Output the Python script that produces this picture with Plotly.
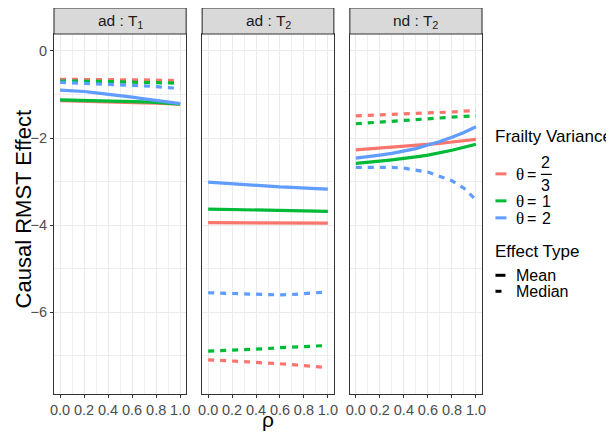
import plotly.graph_objects as go

# ---------------- data ----------------
rho = [0.0, 0.1, 0.2, 0.3, 0.4, 0.5, 0.6, 0.7, 0.8, 0.9, 1.0]
panel_labels = ["ad : T<sub>1</sub>", "ad : T<sub>2</sub>", "nd : T<sub>2</sub>"]
theta_names = ["2/3", "1", "2"]
effect_types = ["Mean", "Median"]
x_ticks = [0.0, 0.2, 0.4, 0.6, 0.8, 1.0]
y_ticks = [0, -2, -4, -6]

# panel ad:T1
p1_mean_t23 = [-1.14, -1.145, -1.15, -1.155, -1.16, -1.17, -1.18, -1.19, -1.20, -1.21, -1.22]
p1_mean_t1 = [-1.12, -1.125, -1.13, -1.135, -1.14, -1.15, -1.16, -1.17, -1.18, -1.20, -1.22]
p1_mean_t2 = [-0.90, -0.91, -0.93, -0.96, -0.99, -1.02, -1.06, -1.10, -1.14, -1.18, -1.21]
p1_med_t23 = [-0.65, -0.65, -0.65, -0.65, -0.655, -0.66, -0.66, -0.665, -0.67, -0.67, -0.68]
p1_med_t1 = [-0.69, -0.69, -0.695, -0.70, -0.70, -0.71, -0.715, -0.72, -0.73, -0.735, -0.74]
p1_med_t2 = [-0.72, -0.73, -0.74, -0.75, -0.76, -0.77, -0.79, -0.80, -0.82, -0.84, -0.86]

# panel ad:T2
p2_mean_t23 = [-3.94, -3.94, -3.94, -3.94, -3.94, -3.945, -3.945, -3.945, -3.95, -3.95, -3.95]
p2_mean_t1 = [-3.63, -3.635, -3.64, -3.645, -3.65, -3.655, -3.66, -3.665, -3.67, -3.675, -3.68]
p2_mean_t2 = [-3.01, -3.03, -3.05, -3.07, -3.09, -3.10, -3.12, -3.13, -3.15, -3.16, -3.17]
p2_med_t23 = [-7.09, -7.10, -7.12, -7.13, -7.15, -7.16, -7.18, -7.20, -7.22, -7.24, -7.27]
p2_med_t1 = [-6.89, -6.88, -6.87, -6.85, -6.84, -6.83, -6.81, -6.80, -6.79, -6.77, -6.76]
p2_med_t2 = [-5.55, -5.56, -5.57, -5.58, -5.59, -5.60, -5.60, -5.59, -5.57, -5.55, -5.53]

# panel nd:T2
p3_mean_t23 = [-2.27, -2.25, -2.23, -2.21, -2.19, -2.17, -2.14, -2.12, -2.09, -2.06, -2.03]
p3_mean_t1 = [-2.58, -2.56, -2.53, -2.50, -2.47, -2.43, -2.39, -2.34, -2.28, -2.21, -2.14]
p3_mean_t2 = [-2.46, -2.43, -2.39, -2.35, -2.30, -2.24, -2.16, -2.08, -1.98, -1.87, -1.74]
p3_med_t23 = [-1.49, -1.48, -1.47, -1.46, -1.45, -1.44, -1.42, -1.41, -1.40, -1.38, -1.37]
p3_med_t1 = [-1.67, -1.65, -1.63, -1.61, -1.59, -1.57, -1.55, -1.53, -1.52, -1.50, -1.49]
p3_med_t2 = [-2.67, -2.67, -2.67, -2.67, -2.69, -2.73, -2.78, -2.88, -2.98, -3.15, -3.42]

panel_series = [
    [[p1_mean_t23, p1_mean_t1, p1_mean_t2], [p1_med_t23, p1_med_t1, p1_med_t2]],
    [[p2_mean_t23, p2_mean_t1, p2_mean_t2], [p2_med_t23, p2_med_t1, p2_med_t2]],
    [[p3_mean_t23, p3_mean_t1, p3_mean_t2], [p3_med_t23, p3_med_t1, p3_med_t2]],
]

# ---------------- style ----------------
# the page body has an 8px margin, so the figure is drawn offset by 8px
OFF = 8
PAGE_W, PAGE_H = 614, 432
W, H = PAGE_W - OFF, PAGE_H - OFF
PL, PR, PT, PB = 53.5, 482.5, 34, 394.3   # plot area in page pixels
ML, MR, MT, MB = PL - OFF, PAGE_W - PR, PT - OFF, PAGE_H - PB
PW = PR - PL
PH = PB - PT
colors = ["#F8766D", "#00BA38", "#619CFF"]
dashes = ["solid", "6px,6px"]
SANS = "Liberation Sans, Arial, sans-serif"
SERIF = "Liberation Serif, DejaVu Serif, serif"


def px2x(px):
    return (px - PL) / PW


def py2y(py):
    return (PB - py) / PH


domains = [[px2x(53.5), px2x(186)], [px2x(202), px2x(334)], [px2x(350), px2x(482.5)]]

fig = go.Figure()
for i in range(3):
    xa = "x" if i == 0 else f"x{i+1}"
    ya = "y" if i == 0 else f"y{i+1}"
    for e in range(2):
        for t in range(3):
            fig.add_trace(go.Scatter(
                x=rho, y=panel_series[i][e][t], mode="lines",
                line=dict(color=colors[t], width=3.2, dash=dashes[e]),
                xaxis=xa, yaxis=ya, showlegend=False,
                name=f"θ={theta_names[t]} {effect_types[e]}"))

layout = dict(
    width=W, height=H,
    margin=dict(l=ML, r=MR, t=MT, b=MB, pad=0),
    paper_bgcolor="white", plot_bgcolor="white",
    font=dict(family=SANS, color="#000000"),
    showlegend=False,
)
for i in range(3):
    xk = "xaxis" if i == 0 else f"xaxis{i+1}"
    yk = "yaxis" if i == 0 else f"yaxis{i+1}"
    xa = "x" if i == 0 else f"x{i+1}"
    layout[xk] = dict(
        domain=domains[i], anchor="y" if i == 0 else f"y{i+1}",
        range=[-0.05, 1.05], tickvals=x_ticks,
        ticktext=[f"{v:.1f}" for v in x_ticks],
        showgrid=True, gridcolor="#EBEBEB", gridwidth=1.1,
        minor=dict(dtick=0.1, tick0=0, showgrid=True, gridcolor="#F0F0F0", gridwidth=0.7),
        zeroline=False, showline=True, mirror=True, linecolor="#333333", linewidth=1.1,
        ticks="outside", ticklen=3, tickcolor="#333333", tickwidth=1,
        tickfont=dict(size=14.5, color="#4D4D4D", family=SANS),
    )
    layout[yk] = dict(
        domain=[0, 1], anchor=xa,
        range=[-7.874, 0.39], tickvals=y_ticks,
        ticktext=["0" if v == 0 else f"\u2212{abs(v)}" for v in y_ticks],
        showgrid=True, gridcolor="#EBEBEB", gridwidth=1.1,
        minor=dict(dtick=1, tick0=0, showgrid=True, gridcolor="#F0F0F0", gridwidth=0.7),
        zeroline=False, showline=True, mirror=True, linecolor="#333333", linewidth=1.1,
        ticks="outside" if i == 0 else "", ticklen=3, tickcolor="#333333", tickwidth=1,
        showticklabels=(i == 0),
        tickfont=dict(size=14.5, color="#4D4D4D", family=SANS),
    )
    if i > 0:
        layout[yk]["matches"] = "y"
fig.update_layout(**layout)

shapes = []
annotations = []
# facet strips
for i in range(3):
    xr = "x domain" if i == 0 else f"x{i+1} domain"
    shapes.append(dict(type="rect", xref=xr, yref="paper", x0=0, x1=1,
                       y0=1, y1=py2y(8), fillcolor="#D9D9D9",
                       line=dict(color="#333333", width=1.1), layer="above"))
    annotations.append(dict(xref="paper", yref="paper",
                            x=(domains[i][0] + domains[i][1]) / 2, y=py2y(21),
                            text=panel_labels[i], showarrow=False,
                            font=dict(size=15.5, color="#1A1A1A", family=SANS),
                            xanchor="center", yanchor="middle"))

# axis titles
annotations.append(dict(xref="paper", yref="paper", x=px2x(23), y=py2y(210),
                        text="Causal RMST Effect", textangle=-90, showarrow=False,
                        font=dict(size=22, color="#000000", family=SANS),
                        xanchor="center", yanchor="middle"))
annotations.append(dict(xref="paper", yref="paper", x=px2x(268), y=py2y(420),
                        text="ρ", showarrow=False,
                        font=dict(size=21, color="#000000", family=SANS),
                        xanchor="center", yanchor="middle"))


def ann(px, py, text, size, family=SANS, xanchor="left"):
    annotations.append(dict(xref="paper", yref="paper", x=px2x(px), y=py2y(py),
                            text=text, showarrow=False,
                            font=dict(size=size, color="#000000", family=family),
                            xanchor=xanchor, yanchor="middle"))


def seg(x0, x1, py, color, width=3):
    shapes.append(dict(type="line", xref="paper", yref="paper",
                       x0=px2x(x0), x1=px2x(x1), y0=py2y(py), y1=py2y(py),
                       line=dict(color=color, width=width)))


# legend: Frailty Variance
ann(494, 137, "Frailty Variance", 17)
key_y = [174, 201, 218]
text_y = [175, 202, 219]
for t in range(3):
    seg(496, 507, key_y[t], colors[t])
    ann(521, text_y[t], "θ", 17, SERIF, "center")
    ann(532.5, text_y[t] - 0.5, "=", 16, SANS, "center")
ann(546.5, 163, "2", 16, SANS, "center")
ann(546.5, 186, "3", 16, SANS, "center")
seg(541.5, 552.5, 174.5, "#000000", 1.2)
ann(541, 202, theta_names[1], 16)
ann(541, 219, theta_names[2], 16)

# legend: Effect Type
ann(494, 252, "Effect Type", 17)
seg(496, 506, 275.5, "#000000", 3)
seg(496, 502, 291.5, "#000000", 3)
ann(515, 276, effect_types[0], 16)
ann(515, 292, effect_types[1], 16)

fig.update_layout(shapes=shapes, annotations=annotations)
fig.write_html("out.html")
